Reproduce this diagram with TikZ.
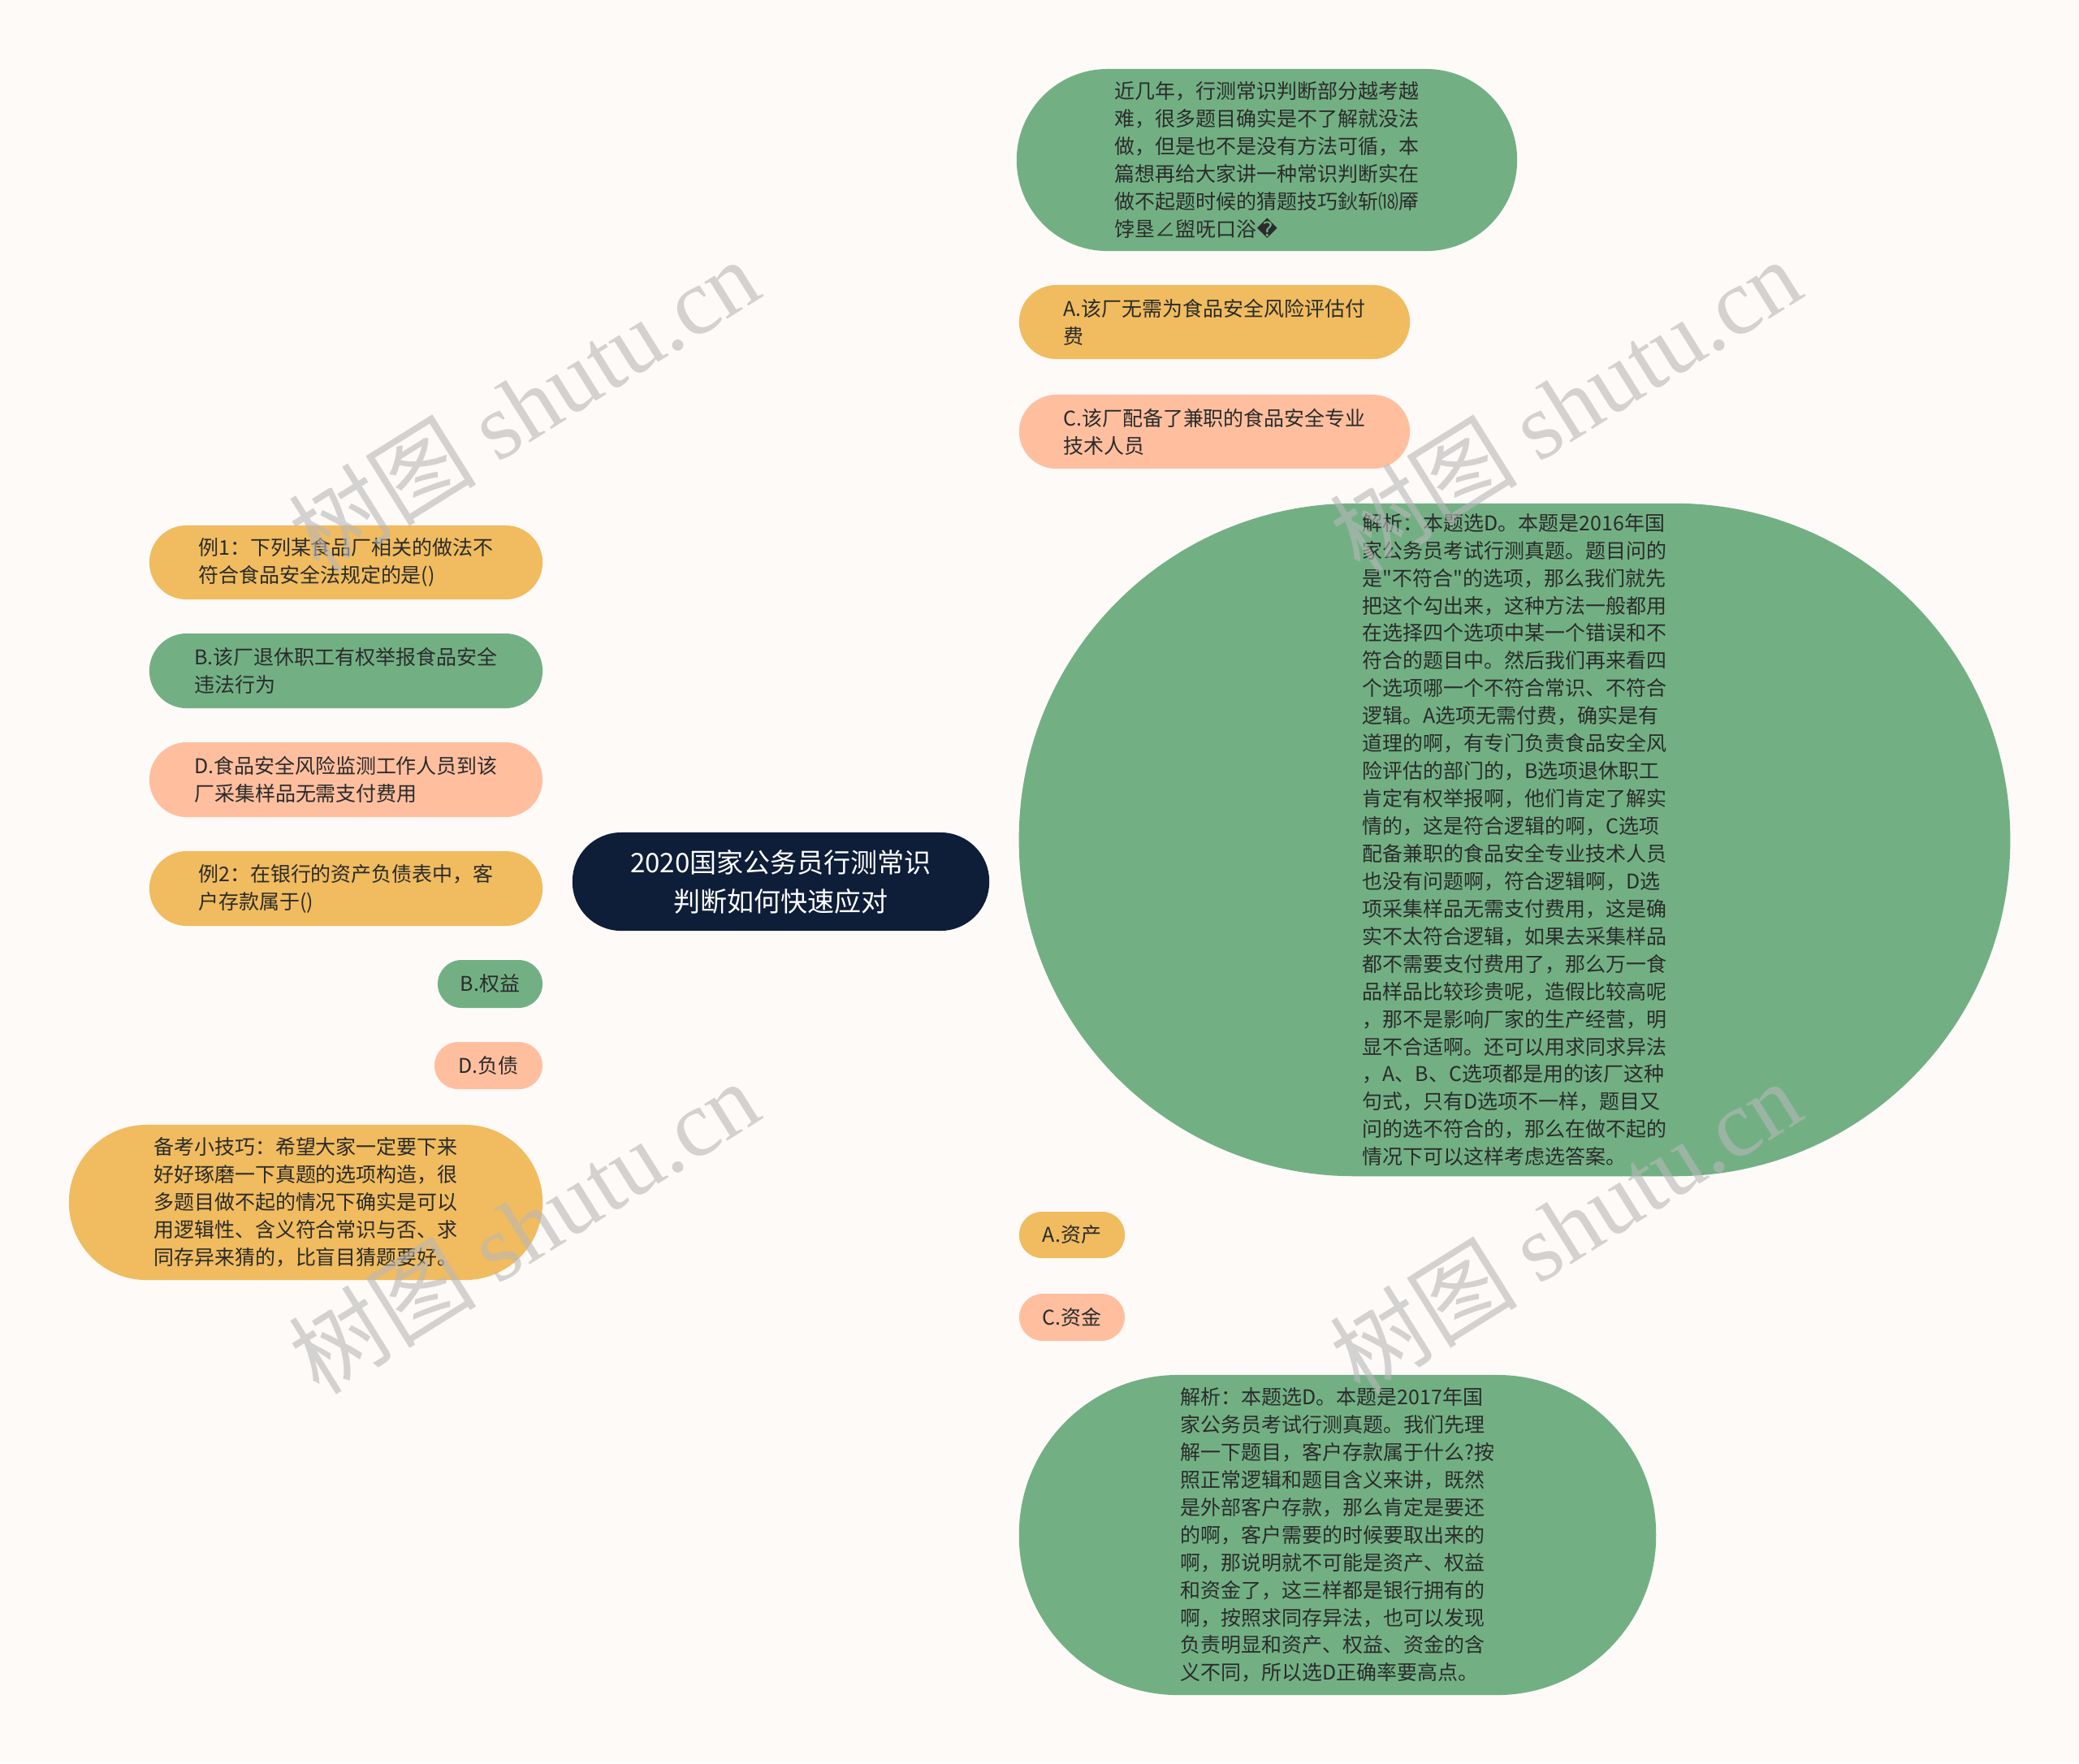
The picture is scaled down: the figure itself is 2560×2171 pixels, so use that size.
\documentclass[tikz,border=0pt]{standalone}
\usepackage{fontspec}
\newfontfamily\cjk{Noto Sans CJK SC}
\newfontfamily\wmfont{Liberation Serif}
\newfontfamily\dvfont{DejaVu Sans}
\usetikzlibrary{calc}
\pgfdeclarelayer{bg}
\pgfsetlayers{bg,main}
\definecolor{bgc}{HTML}{FDFAF8}
\definecolor{cg}{HTML}{72B084}
\definecolor{cy}{HTML}{F0BC5F}
\definecolor{cp}{HTML}{FFBF9F}
\definecolor{cn}{HTML}{0E1D38}
\definecolor{tx}{HTML}{2B2B2B}
\definecolor{wm}{HTML}{B8B8B8}
\tikzset{
  pill/.style n args={3}{rectangle, inner sep=0pt, minimum width=#1cm, minimum height=#2cm, rounded corners=#3cm},
  txt/.style={text=tx, align=left, font=\cjk\fontsize{7.1}{9.65}\selectfont},
  gbox/.style={txt, fill=cg},
  ybox/.style={txt, fill=cy},
  pbox/.style={txt, fill=cp},
  link/.style={line width=0.7pt},
  wmark/.style={text=wm, opacity=0.6, rotate=32, font=\cjk\fontsize{33}{33}\selectfont}
}
\newcommand\linkR[2]{\draw[link,#2] (c.center) .. controls (c.center |- #1.west) and ($(c.center |- #1.west)!0.3!(#1.west)$) .. (#1.west);}
\newcommand\linkL[2]{\draw[link,#2] (c.center) .. controls (c.center |- #1.east) and ($(c.center |- #1.east)!0.3!(#1.east)$) .. (#1.east);}
\begin{document}
\begin{tikzpicture}[x=0.01cm,y=-0.01cm]
\fill[bgc] (0,0) rectangle (2560,2171);
\useasboundingbox (0,0) rectangle (2560,2171);

% center
\node[pill={5.13}{1.21}{0.6}, fill=cn, text=white, align=center, font=\cjk\fontsize{9.4}{13.7}\selectfont] (c) at (961.5,1085.5) {2020国家公务员行测常识\\判断如何快速应对};

% right side
\node[gbox, pill={6.16}{2.24}{1.12}] (r1) at (1560,197) {近几年，行测常识判断部分越考越\\难，很多题目确实是不了解就没法\\做，但是也不是没有方法可循，本\\篇想再给大家讲一种常识判断实在\\做不起题时候的猜题技巧鈥斩⒅厣\\饽垦∠盥呒口浴{\dvfont �}};
\node[ybox, pill={4.81}{0.91}{0.455}] (r2) at (1495.5,396.5) {A.该厂无需为食品安全风险评估付\\费};
\node[pbox, pill={4.81}{0.91}{0.455}] (r3) at (1495.5,531.5) {C.该厂配备了兼职的食品安全专业\\技术人员};
\node[gbox, pill={12.2}{8.28}{4.13}] (r4) at (1865,1034) {解析：本题选D。本题是2016年国\\家公务员考试行测真题。题目问的\\是"不符合"的选项，那么我们就先\\把这个勾出来，这种方法一般都用\\在选择四个选项中某一个错误和不\\符合的题目中。然后我们再来看四\\个选项哪一个不符合常识、不符合\\逻辑。A选项无需付费，确实是有\\道理的啊，有专门负责食品安全风\\险评估的部门的，B选项退休职工\\肯定有权举报啊，他们肯定了解实\\情的，这是符合逻辑的啊，C选项\\配备兼职的食品安全专业技术人员\\也没有问题啊，符合逻辑啊，D选\\项采集样品无需支付费用，这是确\\实不太符合逻辑，如果去采集样品\\都不需要支付费用了，那么万一食\\品样品比较珍贵呢，造假比较高呢\\，那不是影响厂家的生产经营，明\\显不合适啊。还可以用求同求异法\\，A、B、C选项都是用的该厂这种\\句式，只有D选项不一样，题目又\\问的选不符合的，那么在做不起的\\情况下可以这样考虑选答案。};
\node[ybox, pill={1.30}{0.57}{0.28}] (r5) at (1320,1520.5) {A.资产};
\node[pbox, pill={1.30}{0.58}{0.29}] (r6) at (1320,1622) {C.资金};
\node[gbox, pill={7.84}{3.94}{1.96}] (r7) at (1647,1890) {解析：本题选D。本题是2017年国\\家公务员考试行测真题。我们先理\\解一下题目，客户存款属于什么?按\\照正常逻辑和题目含义来讲，既然\\是外部客户存款，那么肯定是要还\\的啊，客户需要的时候要取出来的\\啊，那说明就不可能是资产、权益\\和资金了，这三样都是银行拥有的\\啊，按照求同存异法，也可以发现\\负责明显和资产、权益、资金的含\\义不同，所以选D正确率要高点。};

% left side
\node[ybox, pill={4.84}{0.91}{0.455}] (l1) at (426,692.5) {例1：下列某食品厂相关的做法不\\符合食品安全法规定的是()};
\node[gbox, pill={4.84}{0.92}{0.46}] (l2) at (426,826) {B.该厂退休职工有权举报食品安全\\违法行为};
\node[pbox, pill={4.84}{0.92}{0.46}] (l3) at (426,960) {D.食品安全风险监测工作人员到该\\厂采集样品无需支付费用};
\node[ybox, pill={4.84}{0.92}{0.46}] (l4) at (426,1094) {例2：在银行的资产负债表中，客\\户存款属于()};
\node[gbox, pill={1.29}{0.59}{0.295}] (l5) at (603.5,1211.5) {B.权益};
\node[pbox, pill={1.33}{0.58}{0.29}] (l6) at (601.5,1312) {D.负债};
\node[ybox, pill={5.83}{1.91}{0.955}] (l7) at (376.5,1480.5) {备考小技巧：希望大家一定要下来\\好好琢磨一下真题的选项构造，很\\多题目做不起的情况下确实是可以\\用逻辑性、含义符合常识与否、求\\同存异来猜的，比盲目猜题要好。};

\begin{pgfonlayer}{bg}
\linkR{r1}{cg}
\linkR{r2}{cy}
\linkR{r3}{cp}
\linkR{r4}{cg}
\linkR{r5}{cy}
\linkR{r6}{cp}
\linkR{r7}{cg}
\linkL{l1}{cy}
\linkL{l2}{cg}
\linkL{l3}{cp}
\linkL{l4}{cy}
\linkL{l5}{cg}
\linkL{l6}{cp}
\linkL{l7}{cy}
\end{pgfonlayer}

% watermarks
\node[wmark] (w1) at (645,498) {树图 {\wmfont shutu.cn}};
\node[wmark] (w2) at (1927,498) {树图 {\wmfont shutu.cn}};
\node[wmark] (w3) at (645,1510) {树图 {\wmfont shutu.cn}};
\node[wmark] (w4) at (1927,1510) {树图 {\wmfont shutu.cn}};
\end{tikzpicture}
\end{document}
